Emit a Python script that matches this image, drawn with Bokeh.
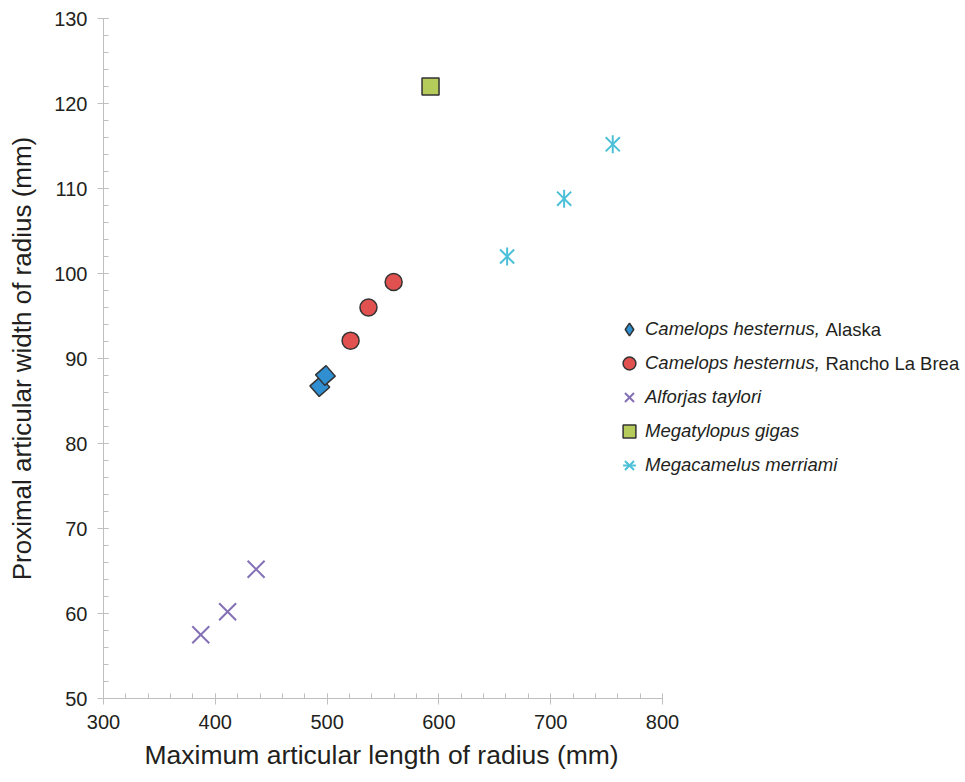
import math
from bokeh.plotting import figure
from bokeh.models import Range1d, SingleIntervalTicker, Legend, LegendItem, Label, Title
from bokeh.embed import file_html
from bokeh.resources import INLINE

# ---- data ----
alaska_x = [493.5, 498.5]
alaska_y = [86.7, 88.0]
rlb_x = [521.0, 537.0, 559.5]
rlb_y = [92.1, 96.0, 99.0]
alforjas_x = [387.0, 411.0, 436.5]
alforjas_y = [57.5, 60.2, 65.2]
megatylopus_x = [592.5]
megatylopus_y = [122.0]
megacamelus_x = [661.0, 712.0, 755.5]
megacamelus_y = [102.0, 108.8, 115.2]

x_ticks = [300, 400, 500, 600, 700, 800]
y_ticks = [50, 60, 70, 80, 90, 100, 110, 120, 130]

FONT = "Liberation Sans"
GRID = "#BFBFBF"
TXT = "#231F20"

# frame is wider than the axis so that the legend (drawn inside the frame) is not clipped
p = figure(width=963, height=780, output_backend="svg", toolbar_location=None,
           x_range=Range1d(300, 1069.2), y_range=Range1d(50, 130),
           min_border_left=103, min_border_right=0, min_border_top=18,
           min_border_bottom=82)
p.outline_line_color = None
p.grid.visible = False
p.background_fill_color = "white"

for ax in (p.xaxis[0], p.yaxis[0]):
    ax.axis_line_color = GRID
    ax.major_tick_line_color = GRID
    ax.minor_tick_line_color = GRID
    ax.major_tick_in = 5
    ax.major_tick_out = 6
    ax.minor_tick_in = 5
    ax.minor_tick_out = 0
    ax.major_label_text_font = FONT
    ax.major_label_text_font_size = "20px"
    ax.major_label_text_color = TXT
    ax.major_label_standoff = 10
    ax.axis_label_text_font = FONT
    ax.axis_label_text_font_size = "26px"
    ax.axis_label_text_font_style = "normal"
    ax.axis_label_text_color = TXT

p.xaxis.bounds = (x_ticks[0], x_ticks[-1])
p.yaxis.bounds = (y_ticks[0], y_ticks[-1])
p.xaxis.ticker = SingleIntervalTicker(interval=100, num_minor_ticks=5)
p.yaxis.ticker = SingleIntervalTicker(interval=10, num_minor_ticks=5)
p.yaxis.axis_label = "Proximal articular width of radius (mm)"
p.yaxis.axis_label_standoff = 14

# x-axis title, centred under the drawn axis (not under the wider frame)
p.add_layout(Title(text="Maximum articular length of radius (mm)", align="left",
                   offset=41, standoff=12, text_font=FONT, text_font_size="26.5px",
                   text_font_style="normal", text_color=TXT), "below")

OUT = "#333333"
r_alf = p.scatter(alforjas_x, alforjas_y, marker="x", size=24,
                  line_color="#8470B5", line_width=2)
r_mc1 = p.scatter(megacamelus_x, megacamelus_y, marker="x", size=20,
                  line_color="#4CC0D8", line_width=2)
r_mc2 = p.scatter(megacamelus_x, megacamelus_y, marker="dash", size=18, angle=math.pi / 2,
                  line_color="#4CC0D8", line_width=2)
r_al_leg = p.scatter(alaska_x, alaska_y, marker="diamond", size=8,
                     fill_color="#2F8FD0", line_color=OUT, line_width=1.5)
r_al = p.scatter(alaska_x, alaska_y, marker="square", size=14, angle=0.72,
                 fill_color="#2F8FD0", line_color=OUT, line_width=1.5)
r_rlb = p.scatter(rlb_x, rlb_y, marker="circle", size=17,
                  fill_color="#E0514F", line_color=OUT, line_width=1.5)
r_mt = p.scatter(megatylopus_x, megatylopus_y, marker="square", size=17,
                 fill_color="#B5CB5A", line_color=OUT, line_width=1.5)

legend = Legend(items=[
    LegendItem(label="Camelops hesternus,", renderers=[r_al_leg]),
    LegendItem(label="Camelops hesternus,", renderers=[r_rlb]),
    LegendItem(label="Alforjas taylori", renderers=[r_alf]),
    LegendItem(label="Megatylopus gigas", renderers=[r_mt]),
    LegendItem(label="Megacamelus merriami", renderers=[r_mc1, r_mc2]),
], location=(510, 216))
legend.glyph_width = 32
legend.glyph_height = 34
legend.label_height = 34
legend.spacing = 0
legend.padding = 0
legend.margin = 0
legend.label_standoff = 0
legend.border_line_color = None
legend.background_fill_alpha = 0
legend.label_text_font = FONT
legend.label_text_font_size = "18.5px"
legend.label_text_font_style = "italic"
legend.label_text_color = TXT
p.add_layout(legend, "center")

for txt, yy in ((" Alaska", 369), (" Rancho La Brea", 335)):
    p.add_layout(Label(x=722, y=yy, x_units="screen", y_units="screen", text=txt,
                       text_font=FONT, text_font_size="18.5px", text_color=TXT,
                       text_baseline="middle"))

open("out.html", "w").write(file_html(p, INLINE))
